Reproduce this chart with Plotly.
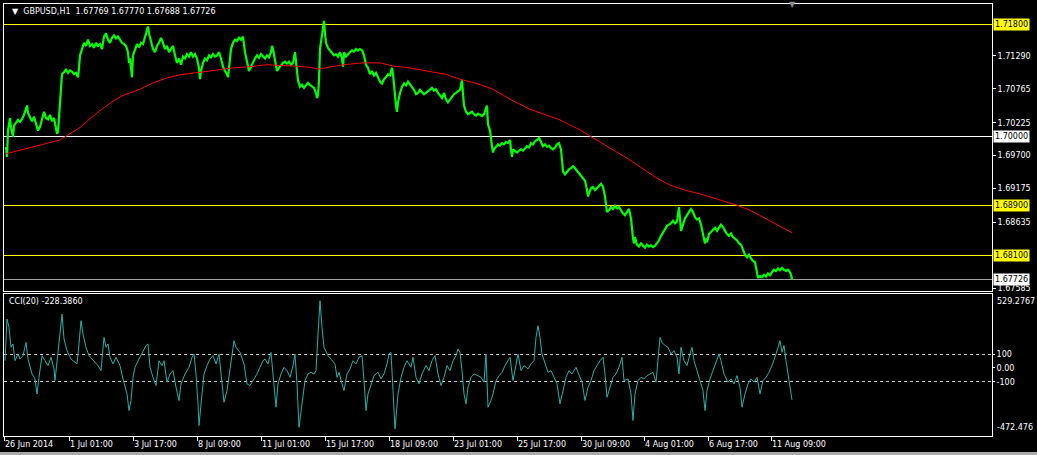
import plotly.graph_objects as go

# ---------------- data (bar number, value) ----------------
symbol_title = "GBPUSD,H1  1.67769 1.67770 1.67688 1.67726"
cci_title = "CCI(20) -228.3860"

price_hourly = [
    (6, 1.6984), (7, 1.6968), (8, 1.7010), (9, 1.7025), (10, 1.7030), (11, 1.7015), (12, 1.7005), (13, 1.7000),
    (14, 1.7018), (16, 1.7022), (18, 1.7027), (20, 1.7024), (22, 1.7028), (24, 1.7035), (26, 1.7045), (27, 1.7050),
    (28, 1.7038), (30, 1.7030), (32, 1.7025), (34, 1.7032), (36, 1.7020), (38, 1.7010), (40, 1.7016), (42, 1.7028),
    (44, 1.7040), (46, 1.7030), (48, 1.7028), (50, 1.7035), (52, 1.7025), (54, 1.7030), (56, 1.7015), (57, 1.7005),
    (58, 1.7008), (59, 1.7035), (60, 1.7050), (61, 1.7075), (62, 1.7100), (64, 1.7103), (66, 1.7107), (68, 1.7102),
    (70, 1.7106), (72, 1.7104), (74, 1.7100), (76, 1.7102), (78, 1.7095), (79, 1.7110), (80, 1.7130), (82, 1.7140),
    (84, 1.7150), (86, 1.7145), (88, 1.7155), (90, 1.7145), (92, 1.7148), (94, 1.7142), (96, 1.7150), (98, 1.7145),
    (100, 1.7148), (102, 1.7140), (104, 1.7160), (106, 1.7165), (108, 1.7155), (110, 1.7150), (112, 1.7158),
    (114, 1.7162), (116, 1.7157), (118, 1.7160), (120, 1.7155), (122, 1.7150), (124, 1.7148), (126, 1.7145),
    (128, 1.7135), (129, 1.7118), (130, 1.7125), (131, 1.7108), (132, 1.7095), (133, 1.7130), (135, 1.7140),
    (137, 1.7148), (139, 1.7143), (141, 1.7150), (143, 1.7148), (145, 1.7160), (147, 1.7172), (148, 1.7176),
    (149, 1.7165), (151, 1.7150), (153, 1.7140), (155, 1.7135), (157, 1.7145), (159, 1.7150), (161, 1.7158),
    (163, 1.7150), (165, 1.7140), (167, 1.7145), (169, 1.7135), (171, 1.7140), (173, 1.7145), (175, 1.7130),
    (177, 1.7118), (179, 1.7125), (181, 1.7115), (183, 1.7128), (185, 1.7125), (187, 1.7132), (189, 1.7128),
    (191, 1.7135), (193, 1.7128), (195, 1.7132), (197, 1.7125), (199, 1.7110), (200, 1.7092), (201, 1.7105),
    (203, 1.7118), (205, 1.7125), (207, 1.7122), (209, 1.7130), (211, 1.7127), (213, 1.7132), (215, 1.7128),
    (217, 1.7130), (219, 1.7135), (221, 1.7125), (223, 1.7112), (225, 1.7105), (227, 1.7100), (228, 1.7095),
    (229, 1.7110), (231, 1.7140), (233, 1.7150), (235, 1.7155), (237, 1.7153), (239, 1.7158), (241, 1.7155),
    (243, 1.7160), (245, 1.7135), (247, 1.7118), (249, 1.7105), (251, 1.7112), (253, 1.7120), (255, 1.7125),
    (257, 1.7130), (259, 1.7126), (261, 1.7132), (263, 1.7128), (265, 1.7125), (267, 1.7130), (269, 1.7127),
    (271, 1.7135), (272, 1.7145), (273, 1.7140), (275, 1.7120), (277, 1.7105), (279, 1.7110), (281, 1.7115),
    (283, 1.7118), (285, 1.7120), (287, 1.7117), (289, 1.7120), (291, 1.7115), (293, 1.7118), (295, 1.7135),
    (296, 1.7120), (298, 1.7090), (300, 1.7080), (302, 1.7083), (304, 1.7078), (306, 1.7082), (308, 1.7086),
    (310, 1.7083), (312, 1.7080), (314, 1.7078), (316, 1.7070), (317, 1.7062), (318, 1.7066), (319, 1.7090),
    (320, 1.7140), (321, 1.7150), (322, 1.7160), (323, 1.7172), (324, 1.7185), (325, 1.7165), (326, 1.7150),
    (328, 1.7142), (330, 1.7138), (332, 1.7135), (334, 1.7130), (336, 1.7132), (338, 1.7128), (340, 1.7135),
    (342, 1.7125), (343, 1.7112), (344, 1.7135), (346, 1.7128), (348, 1.7132), (350, 1.7135), (352, 1.7138),
    (354, 1.7136), (356, 1.7140), (358, 1.7138), (360, 1.7140), (362, 1.7138), (364, 1.7130), (366, 1.7115),
    (368, 1.7110), (370, 1.7100), (372, 1.7105), (374, 1.7098), (376, 1.7102), (378, 1.7095), (380, 1.7088),
    (382, 1.7085), (384, 1.7092), (386, 1.7095), (388, 1.7100), (390, 1.7098), (392, 1.7110), (393, 1.7100),
    (394, 1.7080), (395, 1.7065), (396, 1.7050), (397, 1.7040), (398, 1.7055), (400, 1.7070), (402, 1.7080),
    (404, 1.7085), (406, 1.7082), (408, 1.7088), (410, 1.7084), (412, 1.7080), (414, 1.7075), (416, 1.7068),
    (418, 1.7070), (420, 1.7075), (422, 1.7072), (424, 1.7068), (426, 1.7070), (428, 1.7073), (430, 1.7075),
    (432, 1.7078), (434, 1.7074), (436, 1.7076), (438, 1.7070), (440, 1.7065), (442, 1.7062), (444, 1.7070),
    (446, 1.7060), (448, 1.7055), (450, 1.7060), (452, 1.7065), (454, 1.7068), (456, 1.7070), (458, 1.7072),
    (460, 1.7075), (462, 1.7090), (463, 1.7075), (464, 1.7050), (466, 1.7040), (468, 1.7036), (470, 1.7038),
    (472, 1.7040), (474, 1.7036), (476, 1.7034), (478, 1.7037), (480, 1.7035), (482, 1.7033), (484, 1.7036),
    (486, 1.7045), (487, 1.7050), (488, 1.7020), (490, 1.7010), (492, 1.6985), (493, 1.6975), (494, 1.6980),
    (496, 1.6985), (498, 1.6988), (500, 1.6986), (502, 1.6990), (504, 1.6988), (506, 1.6992), (508, 1.6990),
    (510, 1.6995), (511, 1.6980), (512, 1.6968), (513, 1.6980), (515, 1.6978), (517, 1.6975), (519, 1.6978),
    (521, 1.6980), (523, 1.6978), (525, 1.6982), (527, 1.6985), (529, 1.6983), (531, 1.6990), (533, 1.6988),
    (535, 1.6993), (537, 1.6995), (539, 1.6998), (541, 1.6992), (543, 1.6985), (545, 1.6988), (547, 1.6984),
    (549, 1.6986), (551, 1.6982), (553, 1.6980), (555, 1.6983), (557, 1.6988), (559, 1.6990), (561, 1.6980),
    (562, 1.6960), (563, 1.6945), (565, 1.6940), (567, 1.6944), (569, 1.6948), (571, 1.6950), (573, 1.6953),
    (575, 1.6950), (577, 1.6946), (579, 1.6942), (581, 1.6938), (583, 1.6935), (585, 1.6930), (587, 1.6915),
    (588, 1.6905), (589, 1.6910), (591, 1.6918), (593, 1.6920), (595, 1.6915), (597, 1.6918), (599, 1.6922),
    (601, 1.6925), (603, 1.6920), (605, 1.6905), (607, 1.6880), (609, 1.6883), (611, 1.6888), (613, 1.6885),
    (615, 1.6890), (617, 1.6886), (619, 1.6888), (621, 1.6882), (623, 1.6878), (625, 1.6875), (627, 1.6880),
    (629, 1.6885), (631, 1.6870), (632, 1.6850), (633, 1.6838), (634, 1.6830), (635, 1.6840), (637, 1.6828),
    (639, 1.6825), (641, 1.6830), (643, 1.6826), (645, 1.6823), (647, 1.6828), (649, 1.6825), (651, 1.6827),
    (653, 1.6824), (655, 1.6826), (657, 1.6830), (659, 1.6835), (661, 1.6842), (663, 1.6848), (665, 1.6852),
    (667, 1.6858), (669, 1.6860), (671, 1.6862), (673, 1.6866), (675, 1.6862), (677, 1.6865), (678, 1.6875),
    (679, 1.6888), (680, 1.6870), (681, 1.6850), (683, 1.6860), (685, 1.6870), (687, 1.6875), (689, 1.6880),
    (691, 1.6885), (693, 1.6880), (695, 1.6872), (697, 1.6868), (699, 1.6870), (701, 1.6860), (703, 1.6845),
    (704, 1.6835), (705, 1.6830), (706, 1.6838), (707, 1.6832), (709, 1.6845), (711, 1.6848), (713, 1.6852),
    (715, 1.6855), (717, 1.6850), (719, 1.6856), (721, 1.6860), (723, 1.6856), (725, 1.6850), (727, 1.6845),
    (729, 1.6842), (731, 1.6846), (733, 1.6840), (735, 1.6837), (737, 1.6835), (739, 1.6830), (741, 1.6828),
    (743, 1.6820), (745, 1.6812), (747, 1.6808), (749, 1.6812), (751, 1.6806), (753, 1.6802), (755, 1.6800),
    (757, 1.6785), (758, 1.6775), (760, 1.6778), (762, 1.6776), (764, 1.6780), (766, 1.6777), (768, 1.6782),
    (770, 1.6779), (772, 1.6784), (774, 1.6788), (776, 1.6786), (778, 1.6790), (780, 1.6787), (782, 1.6791),
    (784, 1.6788), (786, 1.6786), (788, 1.6788), (790, 1.6784), (791, 1.6780), (792, 1.67726),
]

moving_average = [
    (6, 1.6973), (33, 1.6984), (60, 1.6995), (67, 1.7002), (80, 1.7015), (90, 1.7029), (100, 1.7042),
    (113, 1.7057), (123, 1.7066), (140, 1.7076), (153, 1.7086), (167, 1.7094), (180, 1.7099), (200, 1.7103),
    (217, 1.7107), (233, 1.7110), (250, 1.7112), (267, 1.7115), (293, 1.7113), (310, 1.7111), (318, 1.7108),
    (330, 1.7111), (343, 1.7115), (363, 1.7118), (380, 1.7118), (393, 1.7113), (410, 1.7110), (427, 1.7105),
    (445, 1.7100), (460, 1.7092), (477, 1.7085), (493, 1.7076), (510, 1.7060), (530, 1.7044), (540, 1.7038),
    (560, 1.7027), (580, 1.7011), (593, 1.6998), (610, 1.6982), (627, 1.6966), (640, 1.6952), (657, 1.6934),
    (670, 1.6923), (687, 1.6914), (700, 1.6909), (713, 1.6903), (727, 1.6896), (737, 1.6891), (750, 1.6883),
    (763, 1.6872), (777, 1.6861), (792, 1.6847),
]

cci_values = [
    (5, 52), (7, 350), (9, 290), (11, 148), (13, 172), (15, 52), (18, 100), (20, 64), (23, 88), (26, 183),
    (28, 64), (32, -43), (35, -78), (37, -186), (39, -67), (42, 88), (45, 52), (48, 17), (51, 76), (54, -7),
    (55, -90), (57, 52), (60, 219), (62, 386), (64, 207), (67, 124), (71, 64), (77, 29), (79, 172), (81, 338),
    (83, 243), (86, 148), (89, 88), (94, 52), (98, 17), (101, -19), (104, 219), (106, 148), (108, 172),
    (110, 76), (113, 29), (116, 76), (120, 17), (123, -78), (127, -186), (129, -305), (131, -233), (133, -67),
    (135, 5), (139, 64), (143, 124), (146, 160), (148, 172), (150, 5), (153, -67), (156, -126), (159, 52),
    (162, 17), (164, 52), (167, -102), (170, -43), (173, -19), (176, -138), (179, -233), (181, -114),
    (185, -43), (189, 5), (192, 76), (194, 100), (196, -43), (198, -257), (199, -412), (202, -186), (204, -43),
    (207, 17), (210, 64), (213, 88), (216, 29), (219, 100), (222, -114), (224, -245), (227, -162), (230, -19),
    (232, 112), (234, 195), (236, 148), (240, 112), (244, 29), (247, -114), (250, -126), (253, -90),
    (257, -43), (260, 5), (263, 52), (265, 64), (268, 29), (271, 112), (273, -43), (276, -281), (278, -114),
    (281, -43), (284, 5), (287, -19), (290, -67), (293, 17), (295, 100), (297, -114), (299, -424), (302, -233),
    (305, -90), (308, -43), (311, -31), (314, -43), (316, -19), (318, 243), (320, 481), (322, 290), (324, 148),
    (328, 88), (332, 52), (335, 29), (337, -67), (339, -31), (342, -114), (344, -162), (347, -43), (350, -7),
    (353, 52), (356, 29), (359, 76), (362, 88), (364, -90), (366, -305), (368, -186), (371, -114), (374, -55),
    (378, -31), (381, -78), (384, -43), (387, 29), (389, 100), (391, 112), (393, -162), (395, -436),
    (398, -186), (401, -67), (404, 5), (407, 52), (411, 5), (413, 76), (416, -67), (419, -114), (422, -43),
    (426, 17), (429, -19), (432, 52), (435, 88), (438, -43), (441, -126), (444, -67), (447, 17), (450, -19),
    (453, 52), (456, 88), (458, 136), (460, 112), (462, -19), (464, -186), (466, -257), (468, -138),
    (471, -67), (474, -43), (478, -55), (481, -67), (484, -102), (486, 100), (488, -281), (491, -233),
    (493, -186), (496, -90), (499, -55), (502, -31), (505, 17), (508, 52), (510, 76), (513, -90), (515, -19),
    (518, 100), (521, -19), (524, 17), (528, -7), (531, 29), (534, 52), (536, 219), (538, 302), (540, 219),
    (542, 100), (545, 29), (548, -31), (551, -19), (554, -67), (557, -114), (560, -257), (563, -162),
    (566, -67), (569, -19), (572, -43), (576, 5), (579, -55), (582, -102), (585, -233), (588, -138),
    (591, -90), (594, -19), (597, 17), (600, 52), (603, 76), (605, -43), (607, -210), (610, -138), (613, -67),
    (616, -43), (619, 5), (622, 76), (624, -90), (628, -78), (631, -186), (633, -376), (635, -186),
    (638, -90), (641, -67), (644, -78), (647, -55), (650, -43), (653, -31), (656, -102), (658, 76),
    (660, 219), (662, 183), (665, 160), (668, 148), (671, 100), (674, 124), (677, 76), (679, -43), (681, 148),
    (684, 52), (687, 17), (690, 100), (692, 148), (694, 52), (697, -19), (700, -90), (703, -162), (705, -305),
    (707, -162), (710, -78), (713, -19), (716, 29), (719, 100), (721, 52), (724, -43), (728, -102),
    (731, -78), (734, -114), (737, -55), (740, -138), (742, -281), (745, -186), (748, -114), (751, -78),
    (754, -102), (757, -67), (760, -186), (763, -90), (766, -67), (769, -31), (772, 17), (776, 100),
    (778, 148), (780, 195), (782, 112), (784, 160), (786, 52), (789, -90), (792, -228.386),
]

price_tick_values = [1.71290, 1.70765, 1.70225, 1.69700, 1.69175, 1.68635, 1.67585]
level_prices = [1.71800, 1.70000, 1.68900, 1.68100]
level_colors = ["#ffff00", "#ffffff", "#ffff00", "#ffff00"]
current_price = 1.67726
cci_levels = [100, -100]
cci_tick_values = [100, 0, -100]
cci_tick_text = ["100", "0.00", "-100"]
cci_max_label = "529.2767"
cci_min_label = "-472.476"

time_tick_bars = [4, 69, 133, 197, 261, 325, 389, 453, 517, 581, 644, 708, 771]
time_tick_labels = ["26 Jun 2014", "1 Jul 01:00", "3 Jul 17:00", "8 Jul 09:00", "11 Jul 01:00",
                    "15 Jul 17:00", "18 Jul 09:00", "23 Jul 01:00", "25 Jul 17:00", "30 Jul 09:00",
                    "4 Aug 01:00", "6 Aug 17:00", "11 Aug 09:00"]

# ---------------- figure ----------------
FONT = "DejaVu Sans"
FS = 8
bar_range = [4, 992]

p_bars, p_close = zip(*price_hourly)
m_bars, m_vals = zip(*moving_average)
c_bars, c_vals = zip(*cci_values)

fig = go.Figure()
fig.add_trace(go.Scatter(x=p_bars, y=p_close, mode="lines", line=dict(color="#00ff00", width=2.2),
                         xaxis="x", yaxis="y", hoverinfo="skip"))
fig.add_trace(go.Scatter(x=m_bars, y=m_vals, mode="lines", line=dict(color="#ff0000", width=1),
                         xaxis="x", yaxis="y", hoverinfo="skip"))
fig.add_trace(go.Scatter(x=c_bars, y=c_vals, mode="lines", line=dict(color="#20b2aa", width=1),
                         xaxis="x2", yaxis="y2", hoverinfo="skip"))

shapes = []
for lv, col in zip(level_prices, level_colors):
    shapes.append(dict(type="line", xref="x domain", yref="y", x0=0, x1=1, y0=lv, y1=lv,
                       line=dict(color=col, width=1), layer="below"))
shapes.append(dict(type="line", xref="x domain", yref="y", x0=0, x1=1, y0=current_price, y1=current_price,
                   line=dict(color="#a0a0a0", width=1), layer="below"))
for lv in cci_levels:
    shapes.append(dict(type="line", xref="x2 domain", yref="y2", x0=0, x1=1, y0=lv, y1=lv,
                       line=dict(color="#c8c8c8", width=1, dash="3px,3px"), layer="below"))
# light window border strip at the very bottom
shapes.append(dict(type="rect", xref="paper", yref="paper", x0=-0.01, x1=1.05, y0=-0.044, y1=-0.037,
                   line=dict(width=0), fillcolor="#a8a8a8", layer="below"))

annotations = []
annotations.append(dict(text="▼  " + symbol_title, xref="x domain", yref="y domain", x=0, y=1,
                        xanchor="left", yanchor="top", xshift=6, yshift=-1, showarrow=False,
                        font=dict(family=FONT, size=FS, color="#ffffff")))
annotations.append(dict(text=cci_title, xref="x2 domain", yref="y2 domain", x=0, y=1,
                        xanchor="left", yanchor="top", xshift=3, yshift=-1, showarrow=False,
                        font=dict(family=FONT, size=FS, color="#ffffff")))
annotations.append(dict(text="▼", xref="x", yref="y domain", x=p_bars[-1], y=1, xanchor="center",
                        yanchor="middle", yshift=0, showarrow=False,
                        font=dict(family=FONT, size=8, color="#8c8c8c")))
for lv, col in zip(level_prices + [current_price], level_colors + ["#ffffff"]):
    annotations.append(dict(text=f"{lv:.5f}", xref="x domain", yref="y", x=1, y=lv,
                            xanchor="left", yanchor="middle", xshift=1, showarrow=False,
                            bgcolor=col, borderpad=1,
                            font=dict(family=FONT, size=FS, color="#000000")))
annotations.append(dict(text=cci_max_label, xref="x2 domain", yref="y2 domain", x=1, y=1,
                        xanchor="left", yanchor="top", xshift=3, yshift=-1, showarrow=False,
                        font=dict(family=FONT, size=FS, color="#ffffff")))
annotations.append(dict(text=cci_min_label, xref="x2 domain", yref="y2 domain", x=1, y=0,
                        xanchor="left", yanchor="bottom", xshift=3, yshift=2, showarrow=False,
                        font=dict(family=FONT, size=FS, color="#ffffff")))
for tb, tl in zip(time_tick_bars, time_tick_labels):
    annotations.append(dict(text=tl, xref="x2", yref="y2 domain", x=tb, y=0,
                            xanchor="left", yanchor="top", xshift=-1, yshift=-2, showarrow=False,
                            font=dict(family=FONT, size=FS, color="#ffffff")))

axis_common = dict(showline=True, mirror=True, linecolor="#ffffff", linewidth=1,
                   showgrid=False, zeroline=False, fixedrange=True)

fig.update_layout(
    width=1037, height=455,
    margin=dict(l=4, r=45, t=4, b=19, pad=0),
    paper_bgcolor="#000000", plot_bgcolor="#000000",
    showlegend=False,
    font=dict(family=FONT, size=FS, color="#ffffff"),
    xaxis=dict(domain=[0, 1], anchor="y", range=bar_range, showticklabels=False, ticks="", **axis_common),
    yaxis=dict(domain=[0.33565, 1], anchor="x", side="right", range=[1.67541, 1.72119],
               tickvals=price_tick_values, ticktext=[f"{v:.5f}" for v in price_tick_values],
               ticks="outside", ticklen=3, tickcolor="#ffffff",
               tickfont=dict(family=FONT, size=FS, color="#ffffff"), **axis_common),
    xaxis2=dict(domain=[0, 1], anchor="y2", range=bar_range, tickvals=time_tick_bars,
                ticktext=["" for _ in time_tick_bars], ticks="outside", ticklen=4, tickcolor="#ffffff",
                **axis_common),
    yaxis2=dict(domain=[0, 0.3287], anchor="x2", side="right", range=[-486.7, 529.28],
                tickvals=cci_tick_values, ticktext=cci_tick_text,
                ticks="outside", ticklen=2, tickcolor="#ffffff",
                tickfont=dict(family=FONT, size=FS, color="#ffffff"), **axis_common),
    shapes=shapes,
    annotations=annotations,
)

post = ("document.body.style.margin='0px';document.body.style.background='#000';"
        "document.querySelectorAll('.shapelayer path').forEach(function(p){p.style.shapeRendering='crispEdges';});")
fig.write_html("out.html", config={"displayModeBar": False}, post_script=post)
